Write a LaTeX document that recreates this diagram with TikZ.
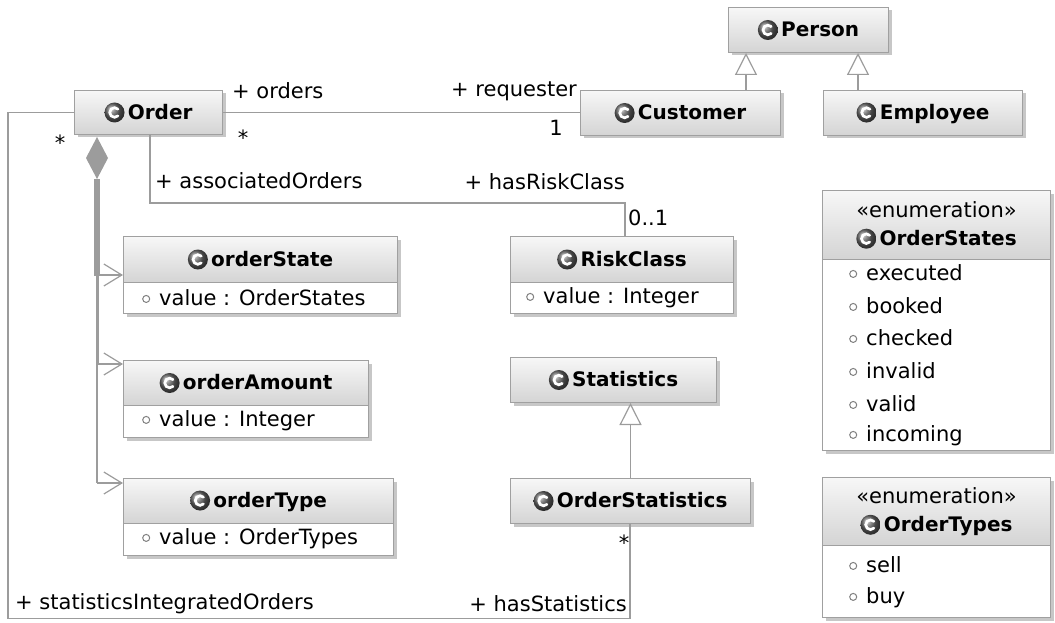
\documentclass[tikz,border=0pt]{standalone}
\usepackage{fontspec}
\setmainfont{DejaVu Sans}
\usetikzlibrary{arrows.meta,shadows,calc}

\definecolor{lnc}{HTML}{9C9C9C}
\definecolor{boxline}{HTML}{A0A0A0}
\definecolor{hdtop}{HTML}{F7F7F7}
\definecolor{hdbot}{HTML}{D4D4D4}

% class icon: dark shaded disc with a white C (drawn as an arc, no inner nodes)
\newcommand\cic{\tikz[baseline=-0.6ex]{\shade[ball color=gray!80!black, draw=none] (0,0) circle (10pt);
  \draw[white, line width=2.7pt, line cap=round] (45:4.8pt) arc (45:315:4.8pt);}}
% attribute / literal marker
\newcommand\adot{\tikz[baseline=-0.6ex]\draw[gray,line width=1pt] (0,0) circle (3.5pt);}

% #1 name, #2 x, #3 y, #4 width, #5 header height, #6 total height, #7 title
\newcommand\umlclass[7]{%
  \node[classbody, minimum width=#4pt, minimum height=#6pt] (#1) at (#2,#3) {};
  \node[classhead, minimum width=#4pt, minimum height=#5pt] (#1-h) at (#2,#3) {#7};}

\begin{document}
\begin{tikzpicture}[x=1pt,y=-1pt,
  every node/.style={font=\fontsize{21}{25}\selectfont, text=black},
  classbody/.style={draw=boxline, fill=white, line width=1pt, inner sep=0pt, anchor=north west,
    drop shadow={shadow xshift=3pt,shadow yshift=-3pt,opacity=0.22,fill=black}},
  classhead/.style={draw=boxline, line width=1pt, top color=hdtop, bottom color=hdbot,
    inner sep=0pt, anchor=north west, align=center, font=\fontsize{20}{28}\selectfont\bfseries},
  member/.style={anchor=west, inner sep=0pt},
  role/.style={inner sep=0pt},
  conn/.style={draw=lnc, line width=1.2pt},
  gen/.style={conn, -{Triangle[open, length=22pt, width=22pt, fill=white]}},
  part/.style={conn, -{Straight Barb[length=18pt, width=22pt, line width=1.2pt]}}]
\useasboundingbox (0,0) rectangle (1055,623);

% classes
\umlclass{person}{728}{7}{160}{45}{45}{\cic\,Person}
\umlclass{customer}{580}{90}{200}{45}{45}{\cic\,Customer}
\umlclass{employee}{823}{90}{199}{45}{45}{\cic\,Employee}
\umlclass{order}{74}{90}{148}{44}{44}{\cic\,Order}
\umlclass{ostate}{123}{236}{274}{46}{77}{\cic\,orderState}
\umlclass{risk}{510}{236}{223}{46}{77}{\cic\,RiskClass}
\umlclass{oamount}{123}{360}{245}{45}{77}{\cic\,orderAmount}
\umlclass{stats}{510}{357}{206}{45}{45}{\cic\,Statistics}
\umlclass{otype}{123}{478}{270}{45}{77}{\cic\,orderType}
\umlclass{ostats}{510}{478}{240}{45}{45}{\cic\,OrderStatistics}
\umlclass{ostates}{822}{190}{228}{69}{260}{{\mdseries\fontsize{21}{28}\selectfont «enumeration»}\\\cic\,OrderStates}
\umlclass{otypes}{822}{477}{228}{68}{140}{{\mdseries\fontsize{21}{28}\selectfont «enumeration»}\\\cic\,OrderTypes}

% attributes
\node[member] (ostate-m) at (142,298) {\adot\hspace{9pt}value : OrderStates};
\node[member] (risk-m) at (526,298) {\adot\hspace{9pt}value : Integer};
\node[member] (oamount-m) at (142,421) {\adot\hspace{9pt}value : Integer};
\node[member] (otype-m) at (142,539) {\adot\hspace{9pt}value : OrderTypes};

% enumeration literals
\node[member] (ls1) at (849,273) {\adot\hspace{9pt}executed};
\node[member] (ls2) at (849,306) {\adot\hspace{9pt}booked};
\node[member] (ls3) at (849,338) {\adot\hspace{9pt}checked};
\node[member] (ls4) at (849,371) {\adot\hspace{9pt}invalid};
\node[member] (ls5) at (849,404) {\adot\hspace{9pt}valid};
\node[member] (ls6) at (849,436) {\adot\hspace{9pt}incoming};
\node[member] (lt1) at (849,565) {\adot\hspace{9pt}sell};
\node[member] (lt2) at (849,598) {\adot\hspace{9pt}buy};

% Order -- Customer
\draw[conn] (order.east) -- (customer.west |- order.east);
\node[role,anchor=west] (r-orders) at (232,91) {+ orders};
\node[role] (r-ostar) at (243,138) {*};
\node[role,anchor=east] (r-req) at (577,91) {+ requester};
\node[role] (r-one) at (556,128) {1};

% generalisations
\coordinate (cg) at ([xshift=-35pt]customer.north east);
\draw[gen] (cg) -- (cg |- person.south);
\coordinate (eg) at ([xshift=35pt]employee.north west);
\draw[gen] (eg) -- (eg |- person.south);
\draw[gen] (ostats.north) -- (ostats.north |- stats.south);

% Order -- RiskClass
\coordinate (ra) at ([xshift=76pt]order.south west);
\coordinate (rb) at ([xshift=115pt]risk.north west);
\draw[conn] (ra) -- ++(0,68) -| (rb);
\node[role,anchor=west] (r-assoc) at (155,181) {+ associatedOrders};
\node[role,anchor=east] (r-risk) at (625,182) {+ hasRiskClass};
\node[role,anchor=west] (r-01) at (628,218) {0..1};

% composition of Order parts
\coordinate (dt) at ([xshift=23pt,yshift=-2pt]order.south west);
\fill[lnc] (dt) -- ++(11,21) -- ++(-11,21) -- ++(-11,-21) -- cycle;
\coordinate (db) at ([yshift=-42pt]dt);
\coordinate (t1) at (ostate.west);
\coordinate (t2) at ([yshift=-4pt]oamount.north west);
\coordinate (t3) at ([yshift=-5pt]otype.north west);
\draw[conn, line width=5.5pt] (db) -- ([yshift=-1pt]db |- t1);
\draw[conn, line width=3pt] (db |- t1) -- (db |- t2);
\draw[conn, line width=1.5pt] (db |- t2) -- (db |- t3);
\draw[part] (db |- t1) -- (t1);
\draw[part] (db |- t2) -- (t2);
\draw[part] (db |- t3) -- (t3);

% Order -- OrderStatistics
\coordinate (sb) at ([xshift=120pt]ostats.south west);
\draw[conn] (order.west) -- ++(-66,0) -- ++(0,506) -| (sb);
\node[role] (r-lstar) at (60,143) {*};
\node[role,anchor=west] (r-sio) at (15,604) {+ statisticsIntegratedOrders};
\node[role,anchor=east] (r-hs) at (627,604) {+ hasStatistics};
\node[role] (r-sstar) at (624,543) {*};
\end{tikzpicture}
\end{document}
